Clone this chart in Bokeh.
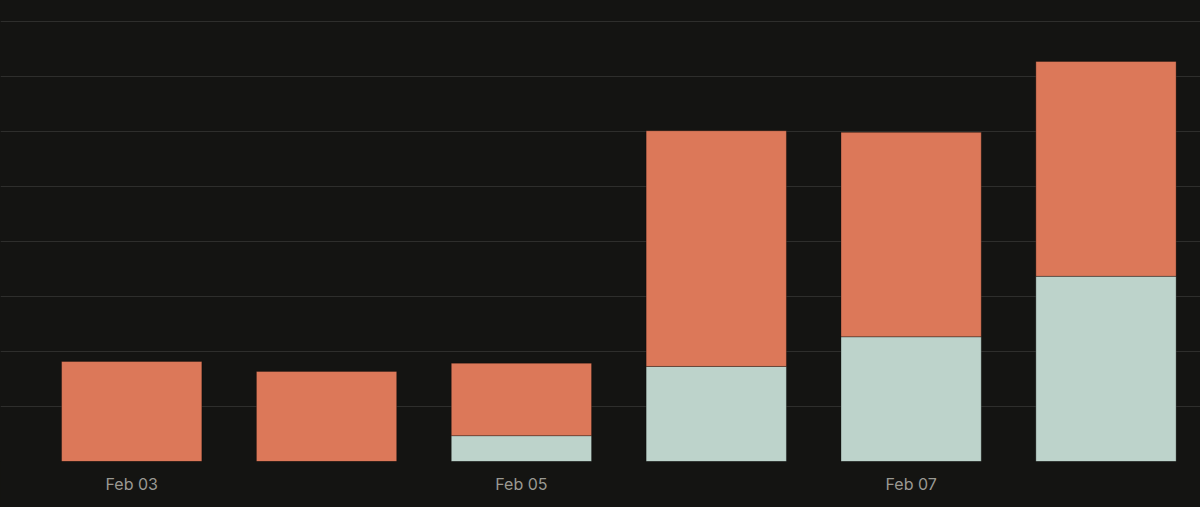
import pandas as pd
from bokeh.plotting import figure
from bokeh.models import ColumnDataSource, Range1d, FixedTicker, DatetimeTickFormatter
from bokeh.embed import file_html
from bokeh.resources import INLINE

# ---- data ----
dates = ["2025-02-03", "2025-02-04", "2025-02-05", "2025-02-06", "2025-02-07", "2025-02-08"]
teal_values = [0.0, 0.0, 0.47, 1.73, 2.27, 3.37]
orange_values = [1.82, 1.64, 1.32, 4.29, 3.72, 3.91]
tick_dates = ["2025-02-03", "2025-02-05", "2025-02-07"]
series = ["teal", "orange"]

BG = "#141412"
ORANGE = "#dc7859"
TEAL = "#bdd3cb"
GRID = "#2e2e2c"
TEXT = "#9a9993"

x = pd.to_datetime(dates)
src = ColumnDataSource(dict(date=x, teal=teal_values, orange=orange_values))

DAY = 86400000.0
x0 = x[0]
x_start = x0 - pd.Timedelta(days=0.6733)
x_end = x0 + pd.Timedelta(days=5.485)

p = figure(width=1200, height=507, x_axis_type="datetime",
           x_range=Range1d(x_start, x_end), y_range=Range1d(0, 8.39),
           output_backend="svg", toolbar_location=None,
           min_border_left=0, min_border_right=0, min_border_top=0, min_border_bottom=46)

p.background_fill_color = BG
p.border_fill_color = BG
p.outline_line_color = None

p.vbar_stack(series, x="date", width=0.72 * DAY, source=src,
             color=[TEAL, ORANGE], line_color="#000000", line_alpha=0.3, line_width=1)

ticks_ms = [pd.Timestamp(t).value / 1e6 for t in tick_dates]
p.xaxis.ticker = FixedTicker(ticks=ticks_ms)
fmt = "%b %d"
p.xaxis.formatter = DatetimeTickFormatter(milliseconds=fmt, seconds=fmt, minsec=fmt, minutes=fmt,
                                          hourmin=fmt, hours=fmt, days=fmt, months=fmt, years=fmt)
p.xaxis.axis_line_color = None
p.xaxis.major_tick_line_color = None
p.xaxis.minor_tick_line_color = None
p.xaxis.major_tick_out = 0
p.xaxis.major_label_standoff = 12
p.xaxis.major_label_text_color = TEXT
p.xaxis.major_label_text_font = "Inter"
p.xaxis.major_label_text_font_size = "16px"

p.yaxis.visible = False
p.xgrid.grid_line_color = None
p.ygrid.ticker = FixedTicker(ticks=[0, 1, 2, 3, 4, 5, 6, 7, 8])
p.ygrid.grid_line_color = GRID
p.ygrid.grid_line_width = 1.2

html = file_html(p, INLINE)
html = html.replace("<head>", "<head><style>html,body{background:%s;}</style>" % BG, 1)
open("out.html", "w").write(html)
